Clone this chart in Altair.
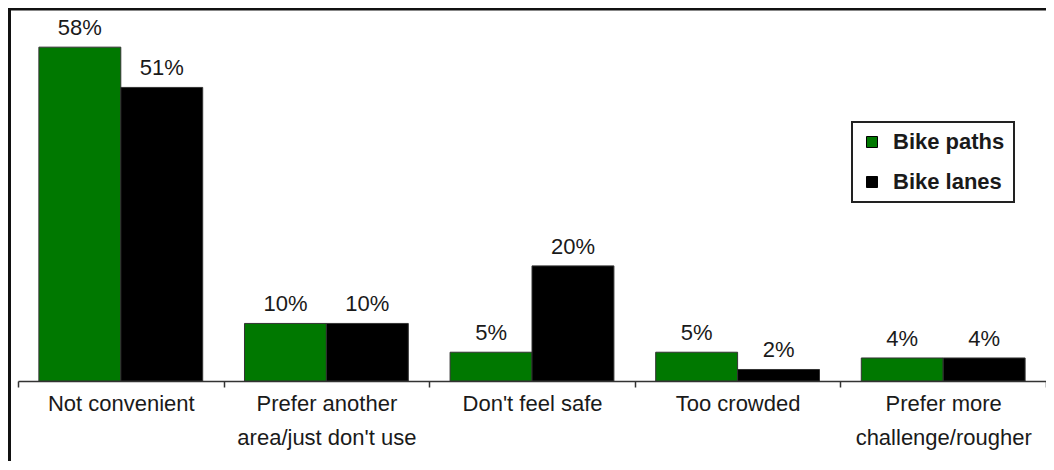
import altair as alt
import pandas as pd

categories = ["Not convenient", "Prefer another|area/just don't use", "Don't feel safe",
              "Too crowded", "Prefer more|challenge/rougher"]
series = ["Bike paths", "Bike lanes"]
bike_paths = [58, 10, 5, 5, 4]
bike_lanes = [51, 10, 20, 2, 4]
colors = ["#007800", "#000000"]

rows = []
for c, a, b in zip(categories, bike_paths, bike_lanes):
    rows.append({"cat": c, "series": series[0], "value": a})
    rows.append({"cat": c, "series": series[1], "value": b})
df = pd.DataFrame(rows)

W, H = 1028, 373
FONT = "Liberation Sans"
TXT = "#1a1a1a"

x = alt.X("cat:N", sort=categories,
          scale=alt.Scale(paddingInner=0, paddingOuter=0),
          axis=alt.Axis(title=None, labelAngle=0, labelExpr="split(datum.label, '|')",
                        labelFont=FONT, labelFontSize=22, labelColor=TXT,
                        labelLineHeight=34, labelPadding=6, labelLimit=400,
                        tickBand="extent", tickSize=6, tickColor="#333", tickWidth=1.5,
                        domainColor="#333", domainWidth=1.5, grid=False))
xo = alt.XOffset("series:N", sort=series,
                 scale=alt.Scale(paddingInner=0, paddingOuter=0.255))
y = alt.Y("value:Q", scale=alt.Scale(domain=[0, 64.8], nice=False), axis=None)

base = alt.Chart(df).transform_calculate(label="datum.value + '%'")

bars = base.mark_bar(stroke="#333", strokeWidth=1).encode(
    x=x, xOffset=xo, y=y,
    color=alt.Color("series:N", sort=series,
                    scale=alt.Scale(domain=series, range=colors),
                    legend=alt.Legend(orient="none", legendX=834, legendY=114, title=None,
                                      strokeColor="#222", fillColor="white", padding=9,
                                      rowPadding=18, symbolType="square", symbolSize=121,
                                      symbolStrokeColor="#000", symbolStrokeWidth=1,
                                      labelFont=FONT, labelFontSize=22, labelFontWeight="bold",
                                      labelColor=TXT, labelOffset=10)),
)

labels = base.mark_text(font=FONT, fontSize=22, color=TXT, baseline="alphabetic", dy=-12).encode(
    x=x, xOffset=xo, y=y, text="label:N"
)

frame = alt.Chart(alt.Data(values=[{}]))
border_left = frame.mark_rule(color="#111", strokeWidth=3).encode(
    x=alt.value(-8.5), y=alt.value(0), y2=alt.value(470))
border_top = frame.mark_rule(color="#111", strokeWidth=2.5).encode(
    x=alt.value(-10), x2=alt.value(W), y=alt.value(1.25))

chart = alt.layer(bars, labels, border_left, border_top).properties(
    width=W, height=H,
    padding={"left": 10, "top": 0, "right": 0, "bottom": 80},
    autosize=alt.AutoSizeParams(type="none"),
    background="white",
).configure_view(stroke=None).configure_legend(strokeWidth=2)

chart.save("out.html", embed_options={"renderer": "svg", "actions": False})
